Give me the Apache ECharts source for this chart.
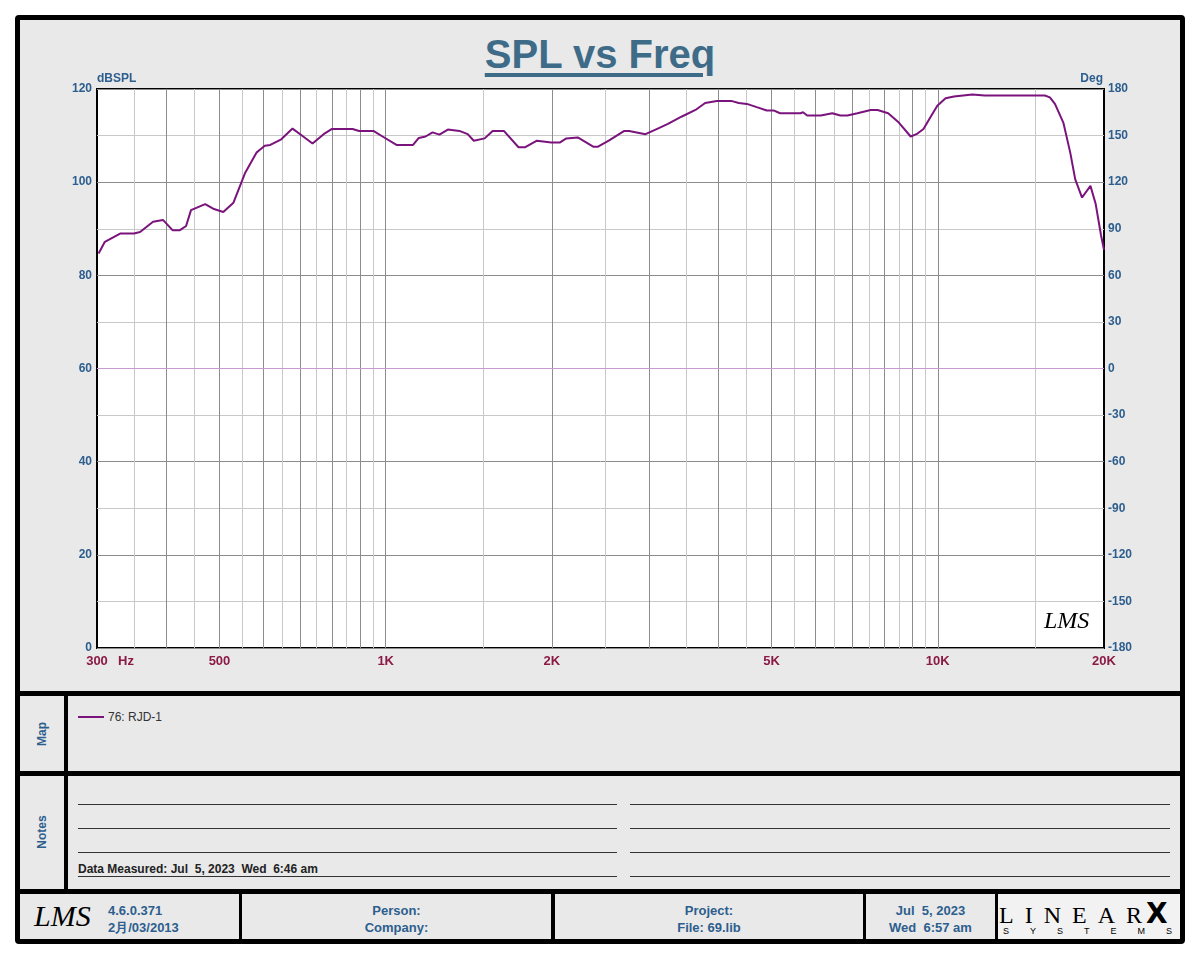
<!DOCTYPE html>
<html>
<head>
<meta charset="utf-8">
<title>SPL vs Freq</title>
<script src="https://cdn.jsdelivr.net/npm/echarts@6/dist/echarts.min.js"></script>
<style>
  body { margin: 0; background: #fff; font-family: "Liberation Sans", Arial, sans-serif; }
  .page { position: relative; width: 1200px; height: 960px; }
  .abs { position: absolute; }
  .frame { left: 15px; top: 15px; width: 1160px; height: 919px; border: 5px solid #000; border-radius: 4px; background: #e9e9e9; }
  .bar { background: #000; }
  .title { left: 0; top: 34px; width: 1200px; text-align: center; font: bold 40px/40px "Liberation Sans", Arial, sans-serif; color: #3e6c88; }
  .title span { text-decoration: underline; text-decoration-thickness: 4px; text-underline-offset: 5px; }
  .vlabel { width: 80px; text-align: center; font: bold 12px "Liberation Sans", Arial, sans-serif; color: #2d5e8e; transform: rotate(-90deg); }
  .note-line { height: 1px; background: #333; }
  .foot { font: bold 13px/17px "Liberation Sans", Arial, sans-serif; color: #2d5e8e; text-align: center; }
  .chart { left: 20px; top: 20px; width: 1160px; height: 671px; }
</style>
</head>
<body>
<div class="page">
  <div class="abs frame"></div>
  <div class="abs title"><span>SPL vs Freq</span></div>
  <div class="abs chart" id="chart"></div>

  <!-- 分隔线 -->
  <div class="abs bar" style="left:20px;top:691px;width:1160px;height:5px"></div>
  <div class="abs bar" style="left:20px;top:771px;width:1160px;height:5px"></div>
  <div class="abs bar" style="left:20px;top:889px;width:1160px;height:5px"></div>
  <div class="abs bar" style="left:64px;top:696px;width:4px;height:193px"></div>
  <div class="abs bar" style="left:239px;top:894px;width:3px;height:46px"></div>
  <div class="abs bar" style="left:551px;top:894px;width:4px;height:46px"></div>
  <div class="abs bar" style="left:863px;top:894px;width:3px;height:46px"></div>
  <div class="abs bar" style="left:995px;top:894px;width:3px;height:46px"></div>

  <!-- Map -->
  <div class="abs vlabel" style="left:2px;top:727px">Map</div>
  <div class="abs" style="left:78px;top:716px;width:26px;height:2px;background:#7a137c"></div>
  <div class="abs" style="left:108px;top:710px;font:12px 'Liberation Sans',Arial,sans-serif;color:#333">76: RJD-1</div>

  <!-- Notes -->
  <div class="abs vlabel" style="left:2px;top:825px">Notes</div>
  <div class="abs note-line" style="left:78px;top:804px;width:539px"></div>
  <div class="abs note-line" style="left:78px;top:828px;width:539px"></div>
  <div class="abs note-line" style="left:78px;top:852px;width:539px"></div>
  <div class="abs note-line" style="left:78px;top:876px;width:539px"></div>
  <div class="abs note-line" style="left:630px;top:804px;width:540px"></div>
  <div class="abs note-line" style="left:630px;top:828px;width:540px"></div>
  <div class="abs note-line" style="left:630px;top:852px;width:540px"></div>
  <div class="abs note-line" style="left:630px;top:876px;width:540px"></div>
  <div class="abs" style="left:78px;top:862px;font:bold 12px 'Liberation Sans',Arial,sans-serif;color:#222;white-space:pre">Data Measured: Jul  5, 2023  Wed  6:46 am</div>

  <!-- 页脚 -->
  <div class="abs" style="left:34px;top:898px;font:italic 30px/36px 'Liberation Serif',serif;color:#000">LMS</div>
  <div class="abs foot" style="left:108px;top:902px;text-align:left">4.6.0.371<br>2月/03/2013</div>
  <div class="abs foot" style="left:242px;top:902px;width:309px">Person:<br>Company:</div>
  <div class="abs foot" style="left:555px;top:902px;width:308px">Project:<br>File: 69.lib</div>
  <div class="abs foot" style="left:866px;top:902px;width:129px;white-space:pre">Jul  5, 2023<br>Wed  6:57 am</div>
  <div class="abs" style="left:998px;top:894px;width:182px;height:45px;background:#f2f2f2"></div>
  <div class="abs" style="left:999px;top:897px;font:24px/26px 'Liberation Serif',serif;color:#000;letter-spacing:11px;white-space:nowrap">LINEAR<span style="font:bold 28px 'DejaVu Sans',sans-serif;letter-spacing:0;margin-left:-7px">X</span></div>
  <div class="abs" style="left:1003px;top:926px;font:9px 'Liberation Sans',Arial,sans-serif;color:#000;letter-spacing:21px;white-space:nowrap">SYSTEMS</div>
</div>

<script>
// 频率 (Hz) 与声压级 (dBSPL)
const freqHz = [302, 310, 316, 331, 350, 359, 379, 395, 411, 424, 435, 444, 471, 487, 508, 530, 556, 584, 591, 604,
  618, 647, 678, 709, 737, 772, 798, 871, 895, 950, 987, 1046, 1121, 1148, 1181, 1216, 1251, 1296, 1360, 1408,
  1444, 1511, 1562, 1637, 1740, 1790, 1879, 1995, 2066, 2124, 2228, 2380, 2420, 2535, 2705, 2760, 2955, 3110, 3245, 3440,
  3640, 3790, 3980, 4240, 4360, 4510, 4700, 4900, 5040, 5180, 5640, 5700, 5800, 6140, 6440, 6660, 6860, 7150, 7560, 7780,
  8130, 8500, 8930, 9150, 9420, 9690, 9980, 10330, 10700, 11550, 12150, 15630, 15960, 16300, 16880, 17370, 17740, 18250, 18900, 19320,
  19760, 20000]
const splDb = [84.7, 87.2, 87.7, 89.0, 89.0, 89.3, 91.5, 91.9, 89.7, 89.7, 90.6, 94.0, 95.3, 94.3, 93.6, 95.6, 101.9, 106.4, 106.9, 107.8,
  108.0, 109.2, 111.5, 109.8, 108.3, 110.3, 111.4, 111.4, 111.0, 111.0, 109.8, 108.0, 108.0, 109.5, 109.8, 110.7, 110.2, 111.3, 111.0, 110.3,
  108.9, 109.4, 111.0, 111.0, 107.5, 107.5, 108.9, 108.5, 108.5, 109.4, 109.6, 107.6, 107.6, 108.9, 111.0, 111.0, 110.3, 111.5, 112.5, 114.1,
  115.5, 117.0, 117.4, 117.4, 117.0, 116.8, 116.1, 115.4, 115.4, 114.8, 114.8, 115.0, 114.3, 114.3, 114.8, 114.3, 114.3, 114.8, 115.5, 115.5,
  114.8, 112.8, 109.8, 110.3, 111.4, 113.9, 116.4, 118.0, 118.4, 118.8, 118.6, 118.6, 118.2, 116.8, 112.8, 106.4, 100.6, 96.7, 99.2, 95.3,
  88.5, 85.5]

// 相位 (Deg)
const phaseFreqHz = [300, 20000]
const phaseDeg = [0, 0]

// 网格线与刻度标签（浅色/深色交替，从 350 开始）
const gridFreqHz = [350, 400, 450, 500, 550, 600, 650, 700, 750, 800, 850, 900, 950, 1000,
  1500, 2000, 2500, 3000, 3500, 4000, 4500, 5000, 5500, 6000, 6500, 7000, 7500, 8000, 8500, 9000, 9500, 10000, 15000]
const freqLabelHz = [300, 500, 1000, 2000, 5000, 10000, 20000]

const blue = '#2d5e8e'
const red = '#8b1a45'
const dark = '#8c8c8c'
const light = '#c8c8c8'

const myChart = echarts.init(document.getElementById('chart'))
const option = {
  animation: false,
  grid: {
    left: 77, top: 69, width: 1007, height: 559,
    show: true, backgroundColor: '#fff', borderColor: '#000', borderWidth: 2, z: 0
  },
  xAxis: {
    type: 'log', logBase: 10, min: 300, max: 20000,
    axisLine: { show: false },
    axisTick: { show: false, customValues: gridFreqHz },
    splitLine: { show: true, lineStyle: { color: [light, dark], width: 1 } },
    axisLabel: {
      customValues: freqLabelHz,
      margin: 7,
      color: red,
      fontWeight: 'bold',
      fontSize: 13,
      formatter: v => (v >= 1000 ? v / 1000 + 'K' : String(v))
    }
  },
  yAxis: [
    {
      type: 'value', min: 0, max: 120, interval: 10,
      axisLine: { show: false }, axisTick: { show: false },
      splitLine: { show: true, lineStyle: { color: [dark, light], width: 1 } },
      axisLabel: {
        margin: 5, color: blue, fontWeight: 'bold', fontSize: 12,
        formatter: v => (v % 20 === 0 ? String(v) : '')
      }
    },
    {
      type: 'value', min: -180, max: 180, interval: 30, position: 'right',
      axisLine: { show: false }, axisTick: { show: false }, splitLine: { show: false },
      axisLabel: { margin: 4, color: blue, fontWeight: 'bold', fontSize: 12 }
    }
  ],
  series: [
    {
      name: '76: RJD-1 Phase', type: 'line', yAxisIndex: 1, symbol: 'none', silent: true,
      lineStyle: { color: '#c89ad2', width: 1 },
      data: phaseFreqHz.map((f, i) => [f, phaseDeg[i]])
    },
    {
      name: '76: RJD-1', type: 'line', yAxisIndex: 0, symbol: 'none', silent: true,
      lineStyle: { color: '#7a137c', width: 2 },
      data: freqHz.map((f, i) => [f, splDb[i]])
    }
  ],
  graphic: [
    { type: 'text', left: 77, top: 53, style: { text: 'dBSPL', fill: blue, font: 'bold 12px Liberation Sans, Arial' } },
    { type: 'text', right: 77, top: 53, style: { text: 'Deg', fill: blue, font: 'bold 12px Liberation Sans, Arial' } },
    { type: 'text', left: 98, top: 635, style: { text: 'Hz', fill: red, font: 'bold 13px Liberation Sans, Arial' } },
    { type: 'text', left: 1024, top: 590, z: 10, style: { text: 'LMS', fill: '#000', font: 'italic 24px Liberation Serif, serif' } }
  ]
}
myChart.setOption(option)
</script>
</body>
</html>
